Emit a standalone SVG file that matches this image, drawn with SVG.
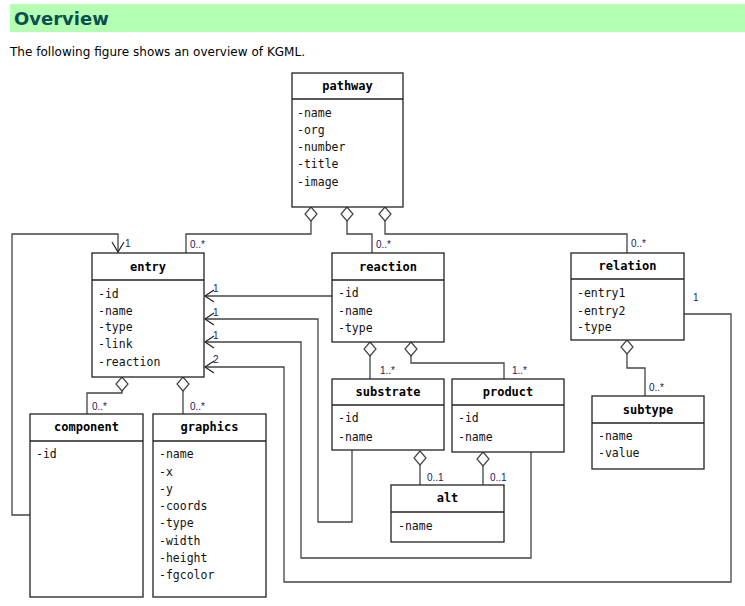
<svg xmlns="http://www.w3.org/2000/svg" width="745" height="606" viewBox="0 0 745 606">
<style>
.box{fill:#fff;stroke:#222;stroke-width:1.3}
.div{stroke:#222;stroke-width:1.3}
.t{font-family:"DejaVu Sans Mono","Liberation Mono",monospace;font-size:12px;font-weight:bold;fill:#000;text-anchor:middle}
.a{font-family:"DejaVu Sans Mono","Liberation Mono",monospace;font-size:11.5px;fill:#111}
.c{fill:none;stroke:#444;stroke-width:1.3}
.dia{fill:#fff;stroke:#444;stroke-width:1.2}
.m{font-family:"Liberation Sans",Arial,sans-serif;font-size:10px;fill:#1a1a60}
.arr{fill:none;stroke:#222;stroke-width:1.2}
</style>
<rect x="0" y="0" width="745" height="606" fill="#fff"/>
<rect x="10" y="4" width="735" height="28" fill="#b4ffb4"/>
<text x="14" y="25" font-family="DejaVu Sans,Verdana,sans-serif" font-size="18" font-weight="bold" fill="#0d4f4f">Overview</text>
<text x="10" y="56" font-family="DejaVu Sans,Verdana,sans-serif" font-size="12" fill="#000" textLength="295">The following figure shows an overview of KGML.</text>

<g id="connectors">
  <!-- pathway to entry -->
  <polyline class="c" points="311,220 311,234 186,234 186,253"/>
  <!-- pathway to reaction -->
  <polyline class="c" points="347,220 347,234 372,234 372,253"/>
  <!-- pathway to relation -->
  <polyline class="c" points="385,220 385,234 627,234 627,253"/>
  <!-- component loop to entry -->
  <polyline class="c" points="30,515 12,515 12,234 118,234 118,252"/>
  <polyline class="arr" points="112,242 118,252 124,242"/>
  <!-- reaction to entry -->
  <polyline class="c" points="332,296 205,296"/>
  <polyline class="arr" points="214,290 205,296 214,302"/>
  <!-- substrate to entry -->
  <polyline class="c" points="352,450 352,522 318,522 318,319 205,319"/>
  <polyline class="arr" points="214,313 205,319 214,325"/>
  <!-- product to entry -->
  <polyline class="c" points="531,452 531,558 301,558 301,342 205,342"/>
  <polyline class="arr" points="214,336 205,342 214,348"/>
  <!-- relation to entry -->
  <polyline class="c" points="684,314 731,314 731,582 284,582 284,367 205,367"/>
  <polyline class="arr" points="214,361 205,367 214,373"/>
  <!-- entry to component / graphics -->
  <polyline class="c" points="122,390 122,393 87,393 87,414"/>
  <polyline class="c" points="183,390 183,414"/>
  <!-- reaction to substrate / product -->
  <polyline class="c" points="370,355 370,379"/>
  <polyline class="c" points="411,355 411,363 504,363 504,379"/>
  <!-- substrate/product to alt -->
  <polyline class="c" points="420,464 420,485"/>
  <polyline class="c" points="483,464 483,485"/>
  <!-- relation to subtype -->
  <polyline class="c" points="627,353 627,368 645,368 645,396"/>

  <!-- diamonds -->
  <polygon class="dia" points="311,207 317,214 311,221 305,214"/>
  <polygon class="dia" points="347,207 353,214 347,221 341,214"/>
  <polygon class="dia" points="385,207 391,214 385,221 379,214"/>
  <polygon class="dia" points="122,377 128,384 122,391 116,384"/>
  <polygon class="dia" points="183,377 189,384 183,391 177,384"/>
  <polygon class="dia" points="370,342 376,349 370,356 364,349"/>
  <polygon class="dia" points="411,342 417,349 411,356 405,349"/>
  <polygon class="dia" points="420,451 426,458 420,465 414,458"/>
  <polygon class="dia" points="483,452 489,459 483,466 477,459"/>
  <polygon class="dia" points="627,340 633,347 627,354 621,347"/>

  <!-- multiplicities -->
  <text class="m" x="190" y="248">0..*</text>
  <text class="m" x="376" y="248">0..*</text>
  <text class="m" x="631" y="247">0..*</text>
  <text class="m" x="125" y="247">1</text>
  <text class="m" x="213" y="292">1</text>
  <text class="m" x="213" y="316">1</text>
  <text class="m" x="213" y="339">1</text>
  <text class="m" x="213" y="363">2</text>
  <text class="m" x="693" y="301">1</text>
  <text class="m" x="92" y="410">0..*</text>
  <text class="m" x="190" y="410">0..*</text>
  <text class="m" x="380" y="374">1..*</text>
  <text class="m" x="512" y="374">1..*</text>
  <text class="m" x="427" y="481">0..1</text>
  <text class="m" x="490" y="481">0..1</text>
  <text class="m" x="649" y="391">0..*</text>
</g>

<g id="pathway">
  <rect class="box" x="292" y="73" width="111" height="134"/>
  <line class="div" x1="292" y1="99" x2="403" y2="99"/>
  <text class="t" x="347.5" y="90">pathway</text>
  <text class="a" x="297" y="117">-name</text>
  <text class="a" x="297" y="134">-org</text>
  <text class="a" x="297" y="151">-number</text>
  <text class="a" x="297" y="168">-title</text>
  <text class="a" x="297" y="186">-image</text>
</g>

<g id="entry">
  <rect class="box" x="92" y="253" width="112" height="124"/>
  <line class="div" x1="92" y1="280" x2="204" y2="280"/>
  <text class="t" x="148" y="271">entry</text>
  <text class="a" x="98" y="298">-id</text>
  <text class="a" x="98" y="315">-name</text>
  <text class="a" x="98" y="331">-type</text>
  <text class="a" x="98" y="348">-link</text>
  <text class="a" x="98" y="366">-reaction</text>
</g>

<g id="reaction">
  <rect class="box" x="332" y="253" width="112" height="89"/>
  <line class="div" x1="332" y1="280" x2="444" y2="280"/>
  <text class="t" x="388" y="271">reaction</text>
  <text class="a" x="338" y="297">-id</text>
  <text class="a" x="338" y="315">-name</text>
  <text class="a" x="338" y="332">-type</text>
</g>

<g id="relation">
  <rect class="box" x="571" y="253" width="113" height="87"/>
  <line class="div" x1="571" y1="279" x2="684" y2="279"/>
  <text class="t" x="627.5" y="270">relation</text>
  <text class="a" x="577" y="297">-entry1</text>
  <text class="a" x="577" y="315">-entry2</text>
  <text class="a" x="577" y="331">-type</text>
</g>

<g id="substrate">
  <rect class="box" x="332" y="379" width="112" height="71"/>
  <line class="div" x1="332" y1="405" x2="444" y2="405"/>
  <text class="t" x="388" y="396">substrate</text>
  <text class="a" x="338" y="422">-id</text>
  <text class="a" x="338" y="441">-name</text>
</g>

<g id="product">
  <rect class="box" x="452" y="379" width="112" height="73"/>
  <line class="div" x1="452" y1="405" x2="564" y2="405"/>
  <text class="t" x="508" y="396">product</text>
  <text class="a" x="458" y="422">-id</text>
  <text class="a" x="458" y="441">-name</text>
</g>

<g id="alt">
  <rect class="box" x="391" y="485" width="113" height="57"/>
  <line class="div" x1="391" y1="512" x2="504" y2="512"/>
  <text class="t" x="447.5" y="502">alt</text>
  <text class="a" x="398" y="530">-name</text>
</g>

<g id="subtype">
  <rect class="box" x="592" y="396" width="112" height="73"/>
  <line class="div" x1="592" y1="423" x2="704" y2="423"/>
  <text class="t" x="648" y="414">subtype</text>
  <text class="a" x="598" y="440">-name</text>
  <text class="a" x="598" y="457">-value</text>
</g>

<g id="component">
  <rect class="box" x="30" y="414" width="113" height="183"/>
  <line class="div" x1="30" y1="441" x2="143" y2="441"/>
  <text class="t" x="86.5" y="431">component</text>
  <text class="a" x="36" y="458">-id</text>
</g>

<g id="graphics">
  <rect class="box" x="153" y="414" width="113" height="183"/>
  <line class="div" x1="153" y1="441" x2="266" y2="441"/>
  <text class="t" x="209.5" y="431">graphics</text>
  <text class="a" x="159" y="458">-name</text>
  <text class="a" x="159" y="476">-x</text>
  <text class="a" x="159" y="493">-y</text>
  <text class="a" x="159" y="510">-coords</text>
  <text class="a" x="159" y="527">-type</text>
  <text class="a" x="159" y="545">-width</text>
  <text class="a" x="159" y="562">-height</text>
  <text class="a" x="159" y="579">-fgcolor</text>
</g>
</svg>
